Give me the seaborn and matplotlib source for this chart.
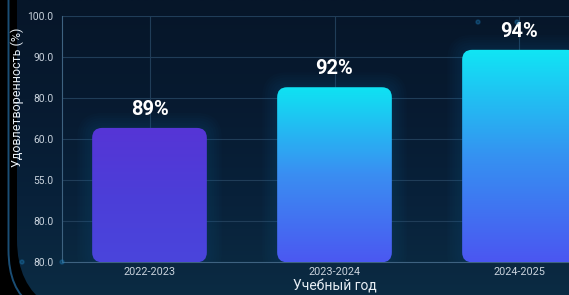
import numpy as np
import matplotlib
matplotlib.use("Agg")
import matplotlib.pyplot as plt
import seaborn as sns
from matplotlib.patches import FancyBboxPatch, PathPatch
from matplotlib.path import Path
from matplotlib.colors import LinearSegmentedColormap
from matplotlib.transforms import IdentityTransform

# ---------------- data ----------------
years = ["2022-2023", "2023-2024", "2024-2025"]
bar_heights = [3.27, 4.26, 5.17]          # bar heights in axis units (tick steps)
value_labels = ["89%", "92%", "94%"]
ytick_labels = ["80.0", "80.0", "55.0", "60.0", "80.0", "90.0", "100.0"]
x_label = "Учебный год"
y_label = "Удовлетворенность (%)"

# ---------------- style ----------------
W, H = 569, 295
DPI = 100
bar_colors = [
    ["#4a45dc", "#4c3ed8", "#5635d6"],
    ["#4b58f1", "#3a8ef2", "#0ee4f3"],
    ["#4b56f2", "#3592f1", "#10e6f4"],
]

sns.set_theme(style="dark")
plt.rcParams["font.family"] = ["Roboto", "DejaVu Sans"]

fig = plt.figure(figsize=(W / DPI, H / DPI), dpi=DPI)
fig.patch.set_facecolor("#081a2f")

# background gradient
bg = fig.add_axes([0, 0, 1, 1], zorder=-10)
bg_cmap = LinearSegmentedColormap.from_list("bg", ["#0b2b43", "#08213a", "#071a30", "#061629"])
bg.imshow(np.linspace(0, 1, 256).reshape(-1, 1), cmap=bg_cmap, aspect="auto",
          extent=(0, 1, 0, 1), origin="lower")
bg.set_axis_off()

# main axes (extends past right edge like the reference)
ax_left, ax_right = 62, 607
ax_top, ax_bot = 15.7, 262.3
ax = fig.add_axes([ax_left / W, (H - ax_bot) / H, (ax_right - ax_left) / W,
                   (ax_bot - ax_top) / H])
ax.set_facecolor("none")

sns.barplot(x=years, y=bar_heights, ax=ax, width=0.62, color="#4a5af0")

ax.set_xlim(-0.473, 2.473)
ax.set_ylim(0, 6)

# px per unit
px_x = (ax_right - ax_left) / (2.473 + 0.473)
px_y = (ax_bot - ax_top) / 6
radius_px = 10
rx = radius_px / px_x
asp = (radius_px / px_y) / rx

grad = np.linspace(0, 1, 256).reshape(-1, 1)
for i, p in enumerate(list(ax.patches)):
    x0, w, h = p.get_x(), p.get_width(), p.get_height()
    p.set_visible(False)
    # soft glow
    for k in range(1, 7):
        gx = k * 2.5 / px_x
        gy = k * 2.5 / px_y
        glow = FancyBboxPatch((x0 - gx, -gy), w + 2 * gx, h + 2 * gy,
                              boxstyle=f"round,pad=0,rounding_size={rx + gx}",
                              mutation_aspect=asp, facecolor="#1a8fd8",
                              edgecolor="none", alpha=0.018, zorder=2)
        ax.add_patch(glow)
    shape = FancyBboxPatch((x0, 0), w, h,
                           boxstyle=f"round,pad=0,rounding_size={rx}",
                           mutation_aspect=asp, facecolor="none",
                           edgecolor="none", zorder=3)
    ax.add_patch(shape)
    cmap = LinearSegmentedColormap.from_list(f"b{i}", bar_colors[i])
    im = ax.imshow(grad, extent=(x0, x0 + w, 0, h), origin="lower", cmap=cmap,
                   aspect="auto", zorder=3)
    im.set_clip_path(shape)
    ax.annotate(value_labels[i], (x0 + w / 2, h), xytext=(0, 6.5),
                textcoords="offset points", ha="center", va="bottom",
                color="white", fontsize=14.5, fontweight="bold", zorder=5)

ax.set_xlim(-0.473, 2.473)
ax.set_ylim(0, 6)

ax.set_yticks(range(len(ytick_labels)))
ax.set_yticklabels(ytick_labels)
ax.tick_params(axis="y", length=0, pad=6, labelsize=7.4, labelcolor="#c9d3dd")
ax.tick_params(axis="x", length=0, pad=3.5, labelsize=7.8, labelcolor="#c9d3dd")

ax.grid(True, color="#203d58", linewidth=0.8)
ax.set_axisbelow(True)
for s in ["top", "right"]:
    ax.spines[s].set_visible(False)
for s in ["left", "bottom"]:
    ax.spines[s].set_visible(True)
    ax.spines[s].set_color("#3e6280")
    ax.spines[s].set_linewidth(0.8)

ax.set_xlabel(x_label, color="#e6edf4", fontsize=10, labelpad=2)
ax.set_ylabel(y_label, color="#e6edf4", fontsize=9)
ax.yaxis.set_label_coords((17 - ax_left) / (ax_right - ax_left),
                          (ax_bot - 97) / (ax_bot - ax_top))
ax.yaxis.label.set_va("center")

# decorative network dots
for (px, py) in [(62, 262), (22, 262), (478, 22), (517, 22)]:
    fig.add_artist(plt.Circle((px, H - py), 2.0, transform=IdentityTransform(),
                              color="#1e88c8", alpha=0.3, zorder=1))

# left black bezel
outer = Path([(-5, H + 5), (17, H + 5), (17, H - 240), (17, H - 285), (48, H - 305),
              (-5, H - 305), (-5, H + 5)],
             [Path.MOVETO, Path.LINETO, Path.LINETO, Path.CURVE3, Path.CURVE3,
              Path.LINETO, Path.CLOSEPOLY])
fig.add_artist(PathPatch(outer, transform=IdentityTransform(), facecolor="black",
                         edgecolor="none", zorder=0))
line = Path([(8.5, H + 5), (8.5, H - 250), (8.5, H - 290), (32, H - 305)],
            [Path.MOVETO, Path.LINETO, Path.CURVE3, Path.CURVE3])
fig.add_artist(PathPatch(line, transform=IdentityTransform(), facecolor="none",
                         edgecolor="#1a4d74", linewidth=1.4, zorder=0))

fig.savefig("out.png", dpi=DPI, facecolor=fig.get_facecolor())
